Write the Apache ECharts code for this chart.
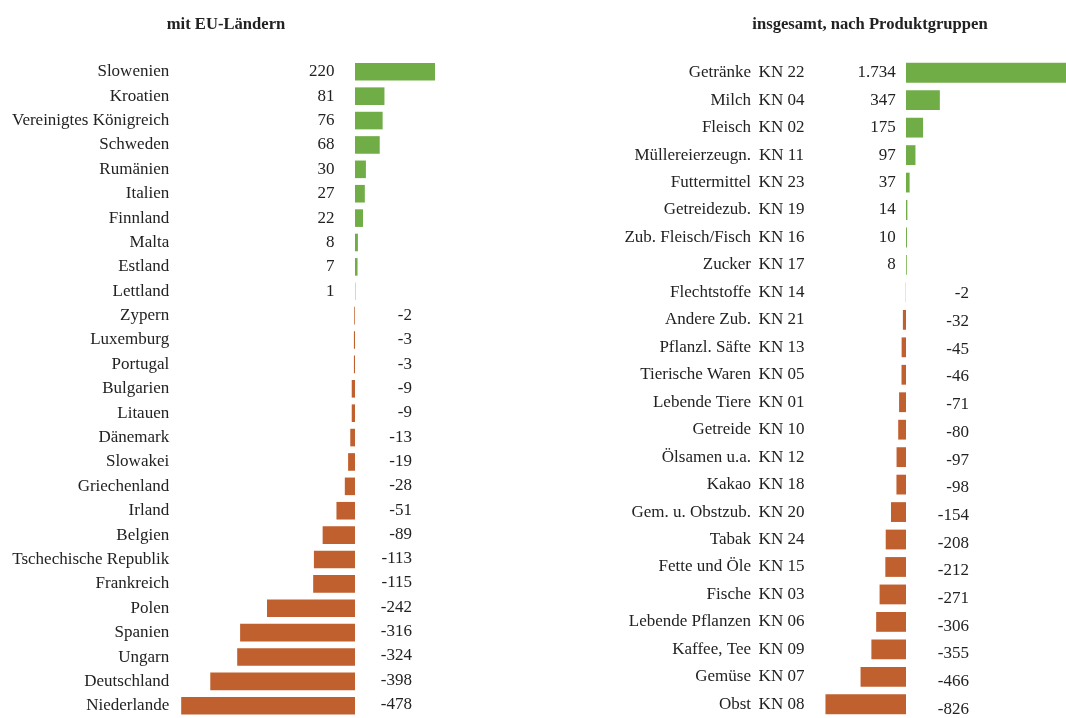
<!DOCTYPE html>
<html><head><meta charset="utf-8">
<script src="https://cdn.jsdelivr.net/npm/echarts@6/dist/echarts.min.js"></script>
<style>html,body{margin:0;padding:0;background:#fff}#c{width:1066px;height:718px}</style>
</head><body><div id="c"></div>
<script>
const euCountries = ["Slowenien","Kroatien","Vereinigtes Königreich","Schweden","Rumänien","Italien","Finnland","Malta","Estland","Lettland","Zypern","Luxemburg","Portugal","Bulgarien","Litauen","Dänemark","Slowakei","Griechenland","Irland","Belgien","Tschechische Republik","Frankreich","Polen","Spanien","Ungarn","Deutschland","Niederlande"];
const euValues = [220,81,76,68,30,27,22,8,7,1,-2,-3,-3,-9,-9,-13,-19,-28,-51,-89,-113,-115,-242,-316,-324,-398,-478];

const prodNames = ["Getränke","Milch","Fleisch","Müllereierzeugn.","Futtermittel","Getreidezub.","Zub. Fleisch/Fisch","Zucker","Flechtstoffe","Andere Zub.","Pflanzl. Säfte","Tierische Waren","Lebende Tiere","Getreide","Ölsamen u.a.","Kakao","Gem. u. Obstzub.","Tabak","Fette und Öle","Fische","Lebende Pflanzen","Kaffee, Tee","Gemüse","Obst"];
const prodCodes = ["KN 22","KN 04","KN 02","KN 11","KN 23","KN 19","KN 16","KN 17","KN 14","KN 21","KN 13","KN 05","KN 01","KN 10","KN 12","KN 18","KN 20","KN 24","KN 15","KN 03","KN 06","KN 09","KN 07","KN 08"];
const prodValues = [1734,347,175,97,37,14,10,8,-2,-32,-45,-46,-71,-80,-97,-98,-154,-208,-212,-271,-306,-355,-466,-826];

const titles = ["mit EU-Ländern","insgesamt, nach Produktgruppen"];

const GREEN = "#70AD47", ORANGE = "#C0602F", TXT = "#222";
const FF = '"Liberation Serif", "DejaVu Serif", serif';
const FS = 17;

function fmt(v){
  const s = String(Math.abs(v)).replace(/\B(?=(\d{3})+(?!\d))/g, ".");
  return (v < 0 ? "-" : "") + s;
}
// posOff / negOff: horizontal distance of the label column from the zero line
// negDrift: small downward drift of the negative label column (per row)
function labelSeries(idx, values, posOff, negOff, negDy0, negDrift){
  const firstNeg = values.findIndex(v => v < 0);
  return {
    type: "custom", xAxisIndex: idx, yAxisIndex: idx, silent: true, clip: false, z: 5,
    data: values.map((v, i) => [v, i]),
    encode: { x: 0, y: 1 },
    renderItem(params, api){
      const v = api.value(0);
      const row = api.value(1);
      const p = api.coord([0, row]);
      const dy = v < 0 ? negDy0 + (row - firstNeg) * negDrift : 0;
      return {
        type: "text",
        x: p[0] + (v >= 0 ? posOff : negOff),
        y: p[1] + dy,
        style: {
          text: fmt(v),
          align: "right",
          verticalAlign: "middle",
          font: FS + "px " + FF,
          fill: TXT
        }
      };
    }
  };
}
const colorFn = p => (p.value >= 0 ? GREEN : ORANGE);

const chart = echarts.init(document.getElementById("c"), null, { renderer: "canvas" });
chart.setOption({
  backgroundColor: "#fff",
  animation: false,
  title: [
    { text: titles[0], left: 221, top: 11, textAlign: "center",
      textStyle: { fontFamily: FF, fontSize: 16.6, fontWeight: "bold", color: TXT } },
    { text: titles[1], left: 865, top: 11, textAlign: "center",
      textStyle: { fontFamily: FF, fontSize: 16.6, fontWeight: "bold", color: TXT } }
  ],
  grid: [
    { left: 173.2, top: 59.6, width: 272.7, height: 660.2, containLabel: false },
    { left: 808.5, top: 59.0, width: 257.5, height: 660.7, containLabel: false }
  ],
  xAxis: [
    { gridIndex: 0, type: "value", min: -500, max: 250, show: false },
    { gridIndex: 1, type: "value", min: -1000, max: 1641, show: false }
  ],
  yAxis: [
    { gridIndex: 0, type: "category", data: euCountries, inverse: true,
      axisLine: { show: false }, axisTick: { show: false }, splitLine: { show: false },
      axisLabel: { fontFamily: FF, fontSize: FS, color: TXT, margin: 4 } },
    { gridIndex: 1, type: "category", data: prodNames, inverse: true,
      axisLine: { show: false }, axisTick: { show: false }, splitLine: { show: false },
      axisLabel: { margin: 4.5, color: TXT, fontFamily: FF, fontSize: FS,
        formatter: (v, i) => "{n|" + prodNames[i] + "}{k|" + prodCodes[i] + "}",
        rich: {
          n: { fontFamily: FF, fontSize: FS, color: TXT, padding: [0, 8, 0, 0] },
          k: { fontFamily: FF, fontSize: FS, color: TXT, width: 45, align: "left" }
        } } }
  ],
  series: [
    { type: "bar", xAxisIndex: 0, yAxisIndex: 0, data: euValues, barWidth: 17.6,
      itemStyle: { color: colorFn }, clip: true },
    { type: "bar", xAxisIndex: 1, yAxisIndex: 1, data: prodValues, barWidth: 19.8,
      itemStyle: { color: colorFn }, clip: true },
    labelSeries(0, euValues, -20.5, 57, 0, -0.08),
    labelSeries(1, prodValues, -10.3, 63, 1.5, 0.24)
  ]
});
</script></body></html>
